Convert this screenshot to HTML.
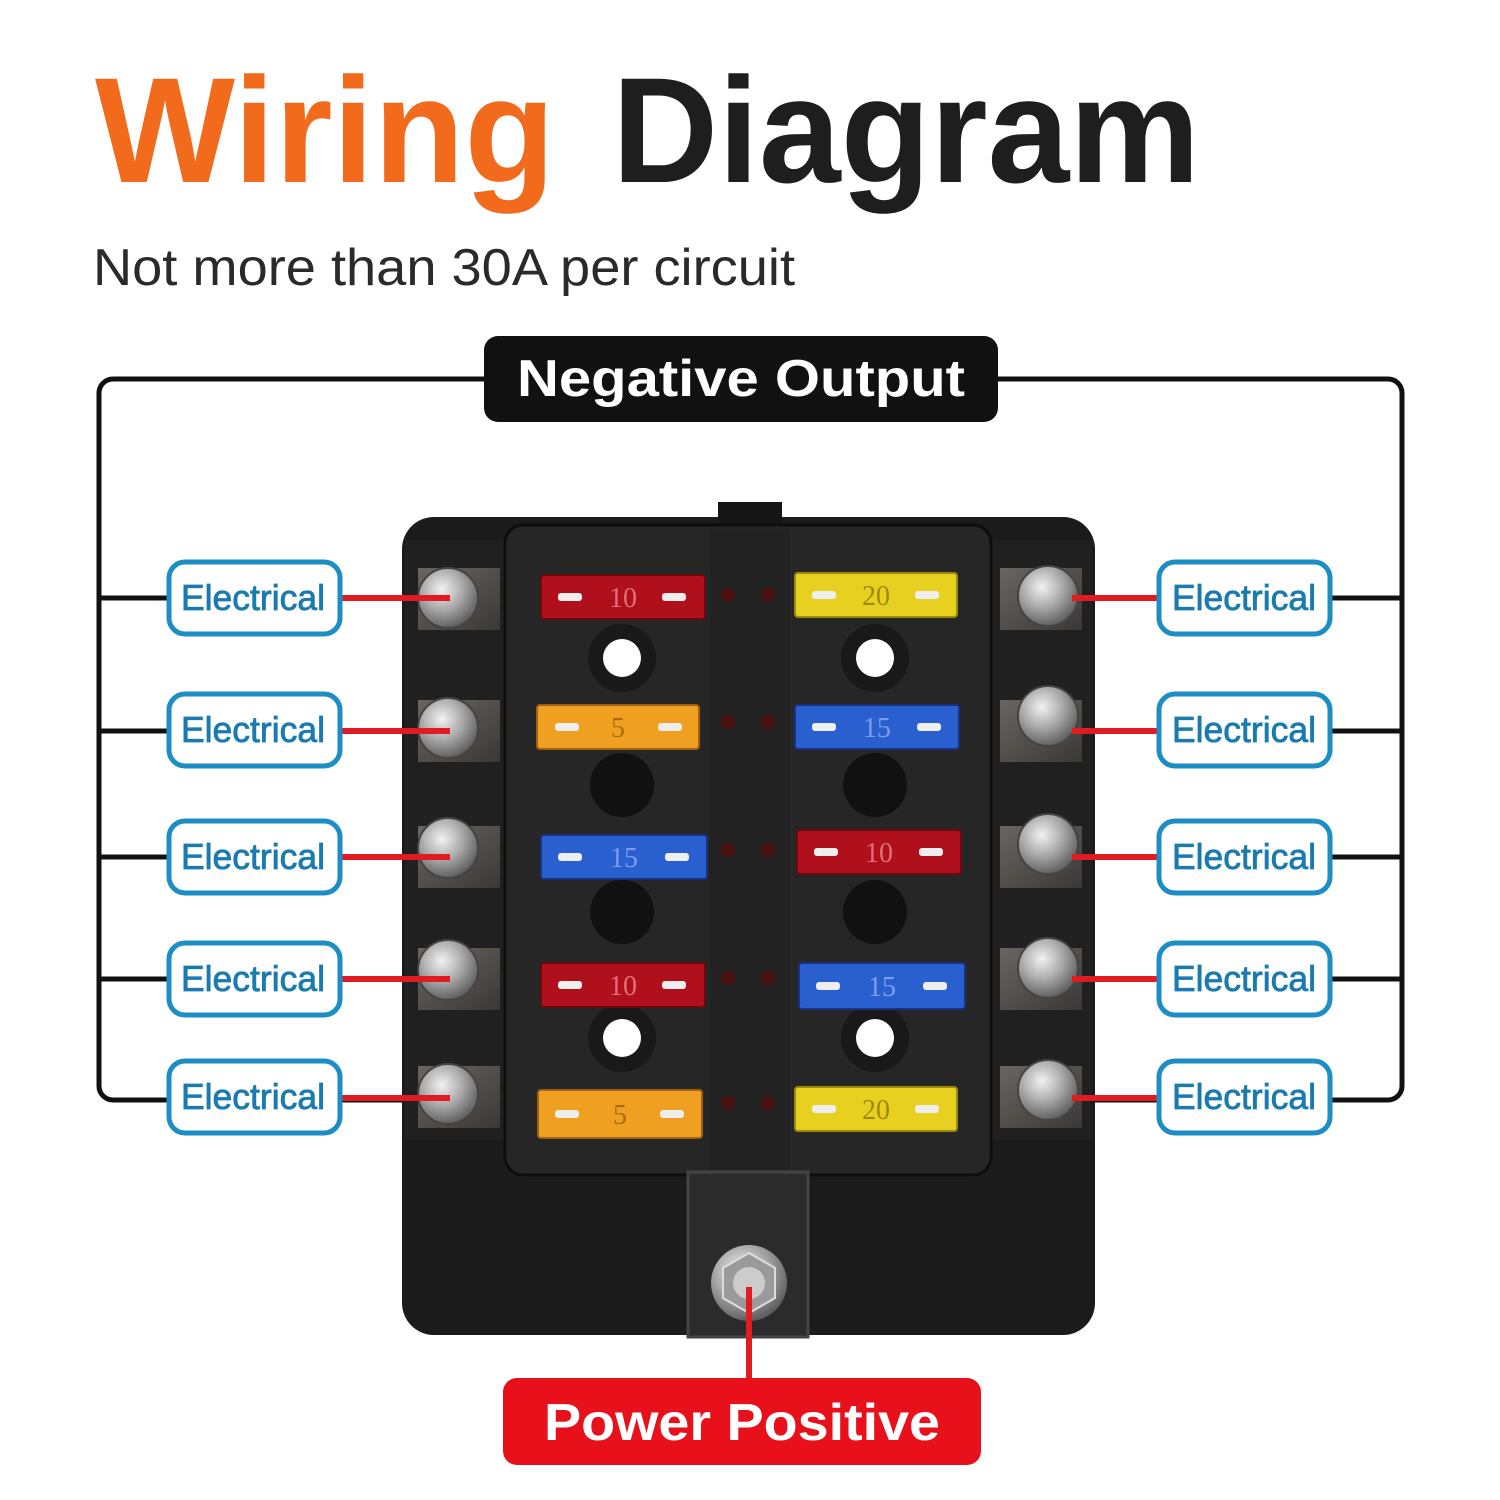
<!DOCTYPE html>
<html><head><meta charset="utf-8"><style>
html,body{margin:0;padding:0;background:#fff;}
svg{display:block;}
</style></head><body>
<svg width="1500" height="1500" viewBox="0 0 1500 1500" xmlns="http://www.w3.org/2000/svg">
<defs>
<radialGradient id="scr" cx="0.4" cy="0.35" r="0.7">
<stop offset="0" stop-color="#f2f2f2"/><stop offset="0.5" stop-color="#a8a8a8"/><stop offset="1" stop-color="#555"/>
</radialGradient>
<linearGradient id="plate" x1="0" y1="0" x2="1" y2="1"><stop offset="0" stop-color="#6a6560"/><stop offset="1" stop-color="#3a3836"/></linearGradient>
</defs>
<text x="95" y="182" font-family="Liberation Sans, sans-serif" font-weight="bold" font-size="150" fill="#f26a1b" textLength="460" lengthAdjust="spacingAndGlyphs">Wiring</text>
<text x="612" y="182" font-family="Liberation Sans, sans-serif" font-weight="bold" font-size="150" fill="#1e1e1e" textLength="588" lengthAdjust="spacingAndGlyphs">Diagram</text>
<text x="93" y="285" font-family="Liberation Sans, sans-serif" font-size="52" fill="#2a2a2a" textLength="702" lengthAdjust="spacingAndGlyphs">Not more than 30A per circuit</text>

<rect x="99" y="379" width="1303" height="721" rx="14" fill="none" stroke="#111" stroke-width="5"/>
<g stroke="#111" stroke-width="5">
<line x1="99" y1="598" x2="170" y2="598"/><line x1="99" y1="731" x2="170" y2="731"/><line x1="99" y1="857" x2="170" y2="857"/><line x1="99" y1="979" x2="170" y2="979"/>
<line x1="1330" y1="598" x2="1402" y2="598"/><line x1="1330" y1="731" x2="1402" y2="731"/><line x1="1330" y1="857" x2="1402" y2="857"/><line x1="1330" y1="979" x2="1402" y2="979"/>
</g>
<rect x="484" y="336" width="514" height="86" rx="14" fill="#111"/>
<text x="741" y="396" text-anchor="middle" font-family="Liberation Sans, sans-serif" font-weight="bold" font-size="52" fill="#fff" textLength="448" lengthAdjust="spacingAndGlyphs">Negative Output</text>

<rect x="402" y="517" width="693" height="818" rx="32" fill="#1b1b1b"/>
<rect x="718" y="502" width="64" height="22" fill="#151515"/>
<rect x="405" y="540" width="100" height="600" fill="#202020"/>
<rect x="992" y="540" width="100" height="600" fill="#202020"/>
<rect x="505" y="525" width="486" height="650" rx="18" fill="#262626" stroke="#0e0e0e" stroke-width="3"/>
<rect x="710" y="530" width="80" height="640" fill="#222"/>
<rect x="688" y="1172" width="120" height="165" fill="#2b2b2b" stroke="#444" stroke-width="3"/>
<circle cx="749" cy="1283" r="38" fill="url(#scr)"/>
<polygon points="749,1253 775,1268 775,1298 749,1313 723,1298 723,1268" fill="#9a9a9a" stroke="#ddd" stroke-width="2"/>
<circle cx="749" cy="1283" r="16" fill="#ccc"/>

<g fill="#111"><circle cx="622" cy="785" r="32"/><circle cx="875" cy="785" r="32"/><circle cx="622" cy="912" r="32"/><circle cx="875" cy="912" r="32"/></g>
<g fill="#111"><circle cx="622" cy="658" r="34" opacity="0.6"/><circle cx="875" cy="658" r="34" opacity="0.6"/><circle cx="622" cy="1038" r="34" opacity="0.6"/><circle cx="875" cy="1038" r="34" opacity="0.6"/></g>
<g fill="#fff"><circle cx="622" cy="658" r="19"/><circle cx="875" cy="658" r="19"/><circle cx="622" cy="1038" r="19"/><circle cx="875" cy="1038" r="19"/></g>

<g fill="#4a1010">
<circle cx="728" cy="595" r="7"/><circle cx="768" cy="595" r="7"/>
<circle cx="728" cy="722" r="7"/><circle cx="768" cy="722" r="7"/>
<circle cx="728" cy="850" r="7"/><circle cx="768" cy="850" r="7"/>
<circle cx="728" cy="978" r="7"/><circle cx="768" cy="978" r="7"/>
<circle cx="728" cy="1103" r="7"/><circle cx="768" cy="1103" r="7"/>
</g>

<g stroke-width="2">
<rect x="541" y="575" width="164" height="44" rx="3" fill="#b0101c" stroke="#6a0a10"/>
<rect x="537" y="705" width="162" height="44" rx="3" fill="#f0a020" stroke="#a06010"/>
<rect x="541" y="835" width="166" height="44" rx="3" fill="#2a5fd0" stroke="#1a3080"/>
<rect x="541" y="963" width="164" height="44" rx="3" fill="#b0101c" stroke="#6a0a10"/>
<rect x="538" y="1090" width="164" height="48" rx="3" fill="#f0a020" stroke="#a06010"/>
<rect x="795" y="573" width="162" height="44" rx="3" fill="#e8d020" stroke="#9a8a10"/>
<rect x="795" y="705" width="164" height="44" rx="3" fill="#2a5fd0" stroke="#1a3080"/>
<rect x="797" y="830" width="164" height="44" rx="3" fill="#b0101c" stroke="#6a0a10"/>
<rect x="799" y="963" width="166" height="46" rx="3" fill="#2a5fd0" stroke="#1a3080"/>
<rect x="795" y="1087" width="162" height="44" rx="3" fill="#e8d020" stroke="#9a8a10"/>
</g>
<g fill="#eee">
<rect x="558" y="593" width="24" height="8" rx="3"/><rect x="662" y="593" width="24" height="8" rx="3"/>
<rect x="555" y="723" width="24" height="8" rx="3"/><rect x="658" y="723" width="24" height="8" rx="3"/>
<rect x="558" y="853" width="24" height="8" rx="3"/><rect x="665" y="853" width="24" height="8" rx="3"/>
<rect x="558" y="981" width="24" height="8" rx="3"/><rect x="662" y="981" width="24" height="8" rx="3"/>
<rect x="555" y="1110" width="24" height="8" rx="3"/><rect x="660" y="1110" width="24" height="8" rx="3"/>
<rect x="812" y="591" width="24" height="8" rx="3"/><rect x="915" y="591" width="24" height="8" rx="3"/>
<rect x="812" y="723" width="24" height="8" rx="3"/><rect x="917" y="723" width="24" height="8" rx="3"/>
<rect x="814" y="848" width="24" height="8" rx="3"/><rect x="919" y="848" width="24" height="8" rx="3"/>
<rect x="816" y="982" width="24" height="8" rx="3"/><rect x="923" y="982" width="24" height="8" rx="3"/>
<rect x="812" y="1105" width="24" height="8" rx="3"/><rect x="915" y="1105" width="24" height="8" rx="3"/>
</g>
<g font-family="Liberation Serif, serif" font-size="28" text-anchor="middle" opacity="0.6">
<text x="623" y="607" fill="#ffb0b0">10</text><text x="618" y="737" fill="#7a4a00">5</text><text x="624" y="867" fill="#b0c8ff">15</text><text x="623" y="995" fill="#ffb0b0">10</text><text x="620" y="1124" fill="#7a4a00">5</text>
<text x="876" y="605" fill="#6a5a00">20</text><text x="877" y="737" fill="#b0c8ff">15</text><text x="879" y="862" fill="#ffb0b0">10</text><text x="882" y="996" fill="#b0c8ff">15</text><text x="876" y="1119" fill="#6a5a00">20</text>
</g>

<g>
<rect x="418" y="568" width="82" height="62" fill="url(#plate)"/><rect x="418" y="700" width="82" height="62" fill="url(#plate)"/><rect x="418" y="826" width="82" height="62" fill="url(#plate)"/><rect x="418" y="948" width="82" height="62" fill="url(#plate)"/><rect x="418" y="1066" width="82" height="62" fill="url(#plate)"/>
<rect x="1000" y="568" width="82" height="62" fill="url(#plate)"/><rect x="1000" y="700" width="82" height="62" fill="url(#plate)"/><rect x="1000" y="826" width="82" height="62" fill="url(#plate)"/><rect x="1000" y="948" width="82" height="62" fill="url(#plate)"/><rect x="1000" y="1066" width="82" height="62" fill="url(#plate)"/>
</g>
<g fill="url(#scr)" stroke="#444" stroke-width="2">
<circle cx="448" cy="598" r="30"/><circle cx="448" cy="728" r="30"/><circle cx="448" cy="848" r="30"/><circle cx="448" cy="970" r="30"/><circle cx="448" cy="1094" r="30"/>
<circle cx="1048" cy="596" r="30"/><circle cx="1048" cy="716" r="30"/><circle cx="1048" cy="844" r="30"/><circle cx="1048" cy="968" r="30"/><circle cx="1048" cy="1090" r="30"/>
</g>

<g stroke="#e01b22" stroke-width="6">
<line x1="340" y1="598" x2="450" y2="598"/><line x1="340" y1="731" x2="450" y2="731"/><line x1="340" y1="857" x2="450" y2="857"/><line x1="340" y1="979" x2="450" y2="979"/><line x1="340" y1="1098" x2="450" y2="1098"/>
<line x1="1072" y1="598" x2="1160" y2="598"/><line x1="1072" y1="731" x2="1160" y2="731"/><line x1="1072" y1="857" x2="1160" y2="857"/><line x1="1072" y1="979" x2="1160" y2="979"/><line x1="1072" y1="1098" x2="1160" y2="1098"/>
<line x1="749" y1="1287" x2="749" y2="1380"/>
</g>

<g fill="#fff" stroke="#1d8ec4" stroke-width="5">
<rect x="169" y="562" width="171" height="72" rx="16"/><rect x="169" y="694" width="171" height="72" rx="16"/><rect x="169" y="821" width="171" height="72" rx="16"/><rect x="169" y="943" width="171" height="72" rx="16"/><rect x="169" y="1061" width="171" height="72" rx="16"/>
<rect x="1159" y="562" width="171" height="72" rx="16"/><rect x="1159" y="694" width="171" height="72" rx="16"/><rect x="1159" y="821" width="171" height="72" rx="16"/><rect x="1159" y="943" width="171" height="72" rx="16"/><rect x="1159" y="1061" width="171" height="72" rx="16"/>
</g>
<g font-family="Liberation Sans, sans-serif" font-size="36" fill="#1a7bb0" text-anchor="middle" stroke="#1a7bb0" stroke-width="0.8">
<text x="253" y="610" textLength="144" lengthAdjust="spacingAndGlyphs">Electrical</text><text x="253" y="742" textLength="144" lengthAdjust="spacingAndGlyphs">Electrical</text><text x="253" y="869" textLength="144" lengthAdjust="spacingAndGlyphs">Electrical</text><text x="253" y="991" textLength="144" lengthAdjust="spacingAndGlyphs">Electrical</text><text x="253" y="1109" textLength="144" lengthAdjust="spacingAndGlyphs">Electrical</text>
<text x="1244" y="610" textLength="144" lengthAdjust="spacingAndGlyphs">Electrical</text><text x="1244" y="742" textLength="144" lengthAdjust="spacingAndGlyphs">Electrical</text><text x="1244" y="869" textLength="144" lengthAdjust="spacingAndGlyphs">Electrical</text><text x="1244" y="991" textLength="144" lengthAdjust="spacingAndGlyphs">Electrical</text><text x="1244" y="1109" textLength="144" lengthAdjust="spacingAndGlyphs">Electrical</text>
</g>

<rect x="503" y="1378" width="478" height="87" rx="14" fill="#e8101a"/>
<text x="742" y="1440" text-anchor="middle" font-family="Liberation Sans, sans-serif" font-weight="bold" font-size="52" fill="#fff" textLength="396" lengthAdjust="spacingAndGlyphs">Power Positive</text>
</svg>
</body></html>
